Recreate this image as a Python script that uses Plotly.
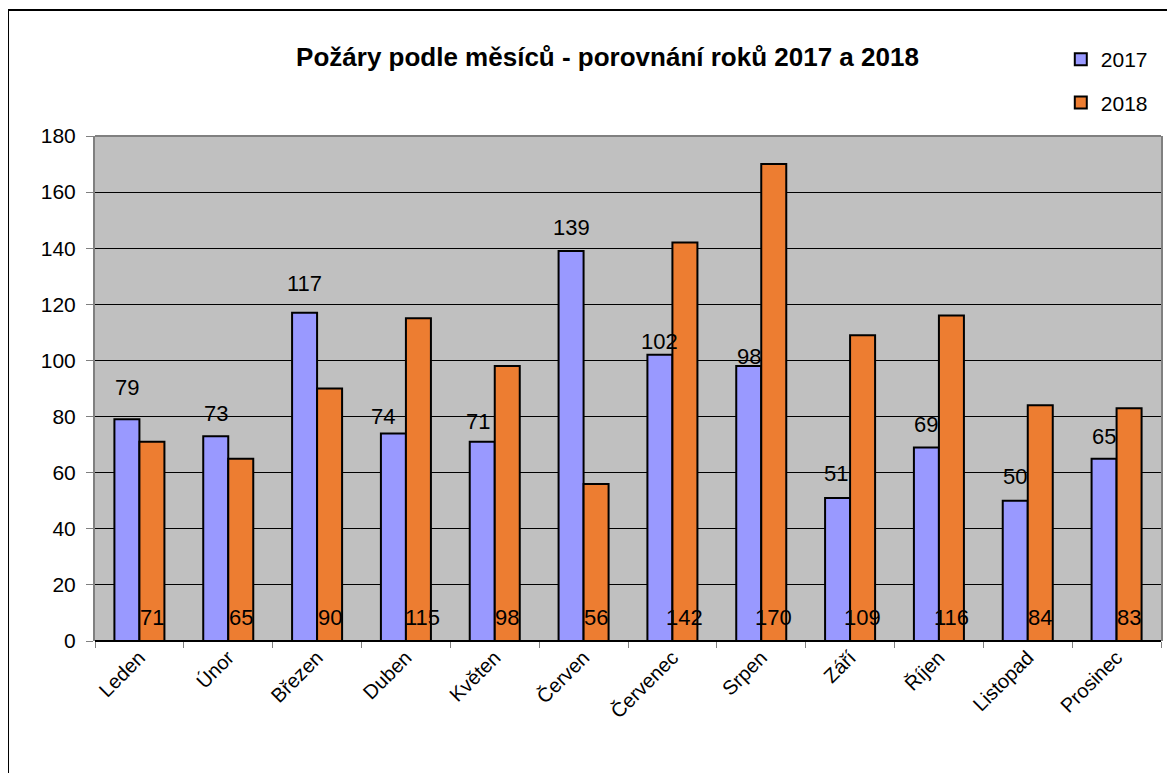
import plotly.graph_objects as go

months = ["Leden", "Únor", "Březen", "Duben", "Květen", "Červen",
          "Červenec", "Srpen", "Září", "Říjen", "Listopad", "Prosinec"]
values_2017 = [79, 73, 117, 74, 71, 139, 102, 98, 51, 69, 50, 65]
values_2018 = [71, 65, 90, 115, 98, 56, 142, 170, 109, 116, 84, 83]
y_ticks = [0, 20, 40, 60, 80, 100, 120, 140, 160, 180]

# label placement styles (pixel offsets as in the original)
shift_2017_y = [32, 23, 29, 17, 20, 24, 13, 10, 24, 23, 24, 22]
shift_2017_x = [0, 0, 0, -10, -4, 0, 0, 0, -2, 0, 0, 0]
shift_2018_x = [0, 0, 0, 4, 0, 0, 0, 0, 0, 0, 0, 0]

FONT = "Liberation Sans, Arial, sans-serif"
C17 = "#9999FF"
C18 = "#ED7D31"
BARGAP = 0.437
half = (1 - BARGAP) / 4  # half bar width in category units

fig = go.Figure()
fig.add_trace(go.Bar(name="2017", x=months, y=values_2017, legendgroup="a",
                     marker=dict(color=C17, line=dict(color="black", width=2))))
fig.add_trace(go.Bar(name="2018", x=months, y=values_2018, legendgroup="b",
                     marker=dict(color=C18, line=dict(color="black", width=2))))

ann = []
for i, v in enumerate(values_2017):
    ann.append(dict(x=i - half, y=v, xref="x", yref="y", text=str(v), showarrow=False,
                    yanchor="middle", xanchor="center", yshift=shift_2017_y[i],
                    xshift=shift_2017_x[i], font=dict(family=FONT, size=22, color="black")))
for i, v in enumerate(values_2018):
    ann.append(dict(x=i + half, y=0, xref="x", yref="y", text=str(v), showarrow=False,
                    yanchor="middle", xanchor="center", yshift=24,
                    xshift=shift_2018_x[i], font=dict(family=FONT, size=22, color="black")))

fig.update_layout(
    width=1167, height=765,
    margin=dict(l=87, r=14, t=128, b=132),
    paper_bgcolor="white", plot_bgcolor="#C0C0C0",
    barmode="group", bargap=BARGAP, bargroupgap=0,
    font=dict(family=FONT, size=20, color="black"),
    title=dict(text="<b>Požáry podle měsíců - porovnání roků 2017 a 2018</b>",
               x=0.5137, xanchor="center", y=0.936, yanchor="middle",
               font=dict(family=FONT, size=26, color="black")),
    legend=dict(x=0.906, xanchor="left", y=1.192, yanchor="top",
                bgcolor="rgba(0,0,0,0)", tracegroupgap=13,
                font=dict(family=FONT, size=21, color="black")),
    annotations=ann,
    shapes=[
        dict(type="rect", xref="paper", yref="paper", x0=-0.0816, x1=1.05, y0=-0.4, y1=1.2495,
             line=dict(color="black", width=2), fillcolor="rgba(0,0,0,0)", layer="above"),
        dict(type="line", xref="paper", yref="paper", x0=0, x1=1, y0=1, y1=1,
             line=dict(color="#808080", width=2), layer="above"),
    ],
)
fig.update_xaxes(type="category", tickangle=-45, tickson="boundaries",
                 ticks="outside", ticklen=6, tickcolor="#808080", tickwidth=1,
                 showgrid=False, showline=False,
                 tickfont=dict(family=FONT, size=20, color="black"))
fig.update_yaxes(range=[0, 180], tickvals=y_ticks, ticks="outside", ticklen=7,
                 tickcolor="#808080", showgrid=True, gridcolor="black", gridwidth=1,
                 zeroline=True, zerolinecolor="black", zerolinewidth=2,
                 showline=True, mirror=True, linecolor="#808080", linewidth=2,
                 ticklabelstandoff=6,
                 tickfont=dict(family=FONT, size=21, color="black"))

fig.write_html("out.html")
